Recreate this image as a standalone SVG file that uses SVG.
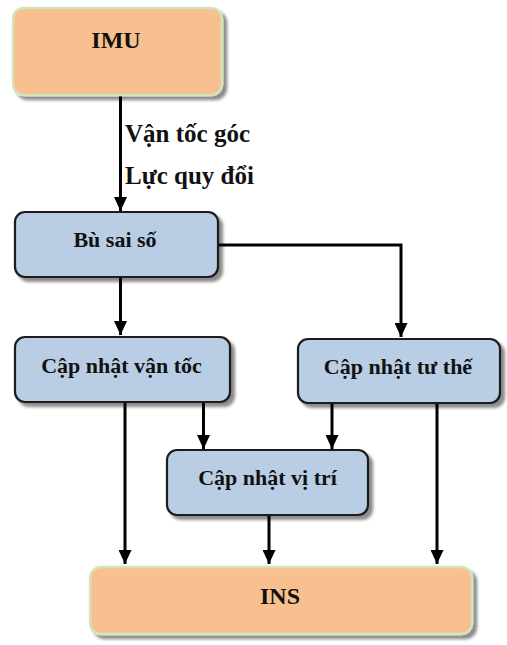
<svg xmlns="http://www.w3.org/2000/svg" width="507" height="645" viewBox="0 0 507 645">
<style>
.blue{fill:#b9cde5;stroke:#1a1a1a;stroke-width:2.2}
.orange{fill:#f8c08f;stroke:#d5e3bc;stroke-width:2.5}
.t{font-family:'Liberation Serif','Times New Roman',serif;font-weight:700;fill:#111;text-anchor:middle}
.lbl{font-family:'Liberation Serif','Times New Roman',serif;font-weight:700;fill:#111;font-size:25px}
.c{stroke:#000;stroke-width:3;fill:none}
</style>
<defs>
<filter id="sh" x="-10%" y="-10%" width="130%" height="140%">
<feGaussianBlur in="SourceAlpha" stdDeviation="1.5"/>
<feOffset dx="4" dy="4" result="b"/>
<feComponentTransfer><feFuncA type="linear" slope="0.45"/></feComponentTransfer>
<feMerge><feMergeNode/><feMergeNode in="SourceGraphic"/></feMerge>
</filter>
<marker id="ah" markerWidth="14" markerHeight="13" refX="14" refY="6.5" orient="auto" markerUnits="userSpaceOnUse" viewBox="0 0 14 13">
<path d="M0,0 L14,6.5 L0,13 Z" fill="#000"/>
</marker>
</defs>
<g id="connectors">
<line class="c" x1="120.5" y1="95" x2="120.5" y2="211" marker-end="url(#ah)"/>
<line class="c" x1="120.5" y1="278" x2="120.5" y2="335" marker-end="url(#ah)"/>
<polyline class="c" points="218,245 401,245 401,337" marker-end="url(#ah)"/>
<line class="c" x1="125" y1="403" x2="125" y2="564" marker-end="url(#ah)"/>
<line class="c" x1="203.5" y1="403" x2="203.5" y2="449" marker-end="url(#ah)"/>
<line class="c" x1="332" y1="404" x2="332" y2="449" marker-end="url(#ah)"/>
<line class="c" x1="437" y1="404" x2="437" y2="564" marker-end="url(#ah)"/>
<line class="c" x1="269" y1="516" x2="269" y2="564" marker-end="url(#ah)"/>
<text class="lbl" x="125" y="142">Vận tốc góc</text>
<text class="lbl" x="125" y="184">Lực quy đổi</text>
</g>
<g id="imu">
<rect class="orange" x="13" y="8" width="209" height="87" rx="11" filter="url(#sh)"/>
<text class="t" x="116" y="48" font-size="24">IMU</text>
</g>
<g id="bu-sai-so">
<rect class="blue" x="15" y="212" width="203" height="65" rx="10" filter="url(#sh)"/>
<text class="t" x="115" y="247" font-size="22">Bù sai số</text>
</g>
<g id="cap-nhat-van-toc">
<rect class="blue" x="15" y="337" width="215" height="65" rx="10" filter="url(#sh)"/>
<text class="t" x="121.5" y="373" font-size="22">Cập nhật vận tốc</text>
</g>
<g id="cap-nhat-tu-the">
<rect class="blue" x="298" y="339" width="202" height="64" rx="10" filter="url(#sh)"/>
<text class="t" x="398" y="374" font-size="22">Cập nhật tư thế</text>
</g>
<g id="cap-nhat-vi-tri">
<rect class="blue" x="167" y="450" width="201" height="65" rx="10" filter="url(#sh)"/>
<text class="t" x="267.5" y="485" font-size="22">Cập nhật vị trí</text>
</g>
<g id="ins">
<rect class="orange" x="90" y="567" width="382" height="67" rx="11" filter="url(#sh)"/>
<text class="t" x="280" y="604" font-size="24">INS</text>
</g>
</svg>
